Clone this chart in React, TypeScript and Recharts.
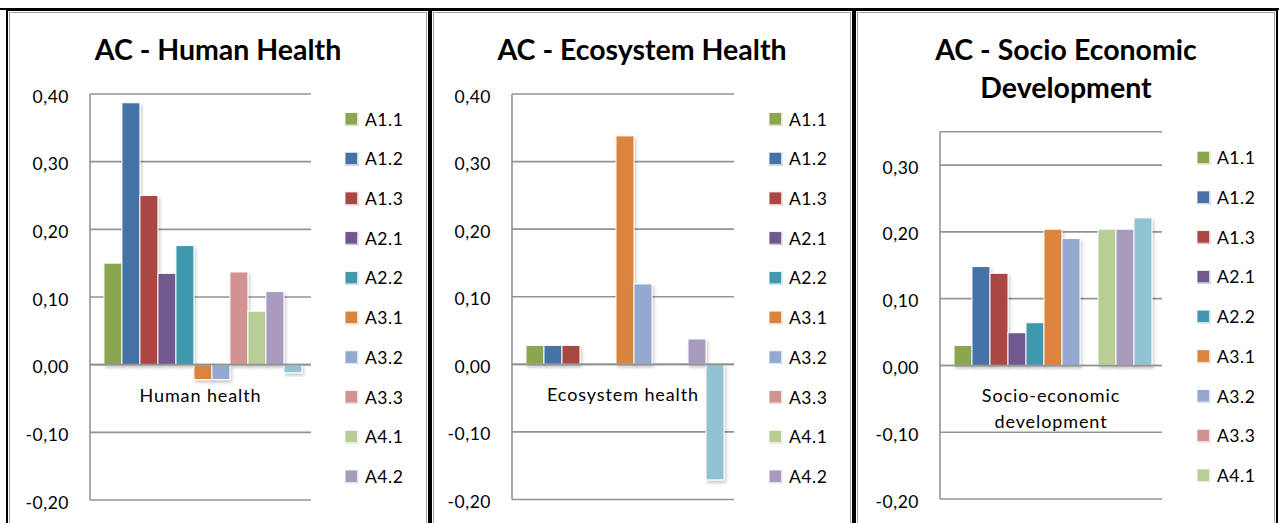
import { Bar, BarChart, CartesianGrid, ReferenceLine, XAxis, YAxis } from 'recharts';

const seriesNames = ['A1.1', 'A1.2', 'A1.3', 'A2.1', 'A2.2', 'A3.1', 'A3.2', 'A3.3', 'A4.1', 'A4.2', 'A4.3'];
const seriesColors = [
  '#8BA64F', '#4572A7', '#AA4643', '#71588F', '#4198AF', '#DB843D',
  '#93A9CF', '#D19392', '#B9CD96', '#A99BBD', '#92C3D4'
];

const categories = ['Human health', 'Ecosystem health', 'Socio-economic development'];
const titles = [['AC - Human Health'], ['AC - Ecosystem Health'], ['AC - Socio Economic', 'Development']];

const humanHealth = [0.15, 0.387, 0.25, 0.135, 0.176, -0.022, -0.022, 0.137, 0.079, 0.108, -0.012];
const ecosystemHealth = [0.028, 0.028, 0.028, 0, 0, 0.338, 0.119, 0, 0, 0.0375, -0.171];
const socioEconomic = [0.03, 0.148, 0.138, 0.049, 0.064, 0.204, 0.19, 0, 0.204, 0.204, 0.221];

const ticksWide = [-0.2, -0.1, 0, 0.1, 0.2, 0.3, 0.4];
const ticksNarrow = [-0.2, -0.1, 0, 0.1, 0.2, 0.3];

const FONT = 'Lato, "Liberation Sans", sans-serif';
const GRID = '#939393';
const CHART_W = 420;
const CHART_H = 540;

const panels = [
  {
    left: 6, values: humanHealth, domain: [-0.2, 0.4], ticks: ticksWide, legendCount: 10,
    plot: { left: 82, right: 303, top: 83, bottom: 489 }, legend: { x: 337, y: 108 }
  },
  {
    left: 430, values: ecosystemHealth, domain: [-0.2, 0.4], ticks: ticksWide, legendCount: 10,
    plot: { left: 80, right: 302, top: 83, bottom: 488.5 }, legend: { x: 337, y: 108 }
  },
  {
    left: 854, values: socioEconomic, domain: [-0.2, 0.35], ticks: ticksNarrow, legendCount: 9,
    plot: { left: 84, right: 306, top: 120.7, bottom: 488 }, legend: { x: 341, y: 146.7 }
  }
];

const fmt = (v: number) => v.toFixed(2).replace('.', ',');

function wrapWords(text: string, max: number) {
  const lines: string[] = [];
  let cur = '';
  text.split(' ').forEach((w) => {
    if (cur && (cur + ' ' + w).length > max) {
      lines.push(cur);
      cur = w;
    } else {
      cur = cur ? cur + ' ' + w : w;
    }
  });
  if (cur) lines.push(cur);
  return lines;
}

const BarShape = (props: any) => {
  const { x, y, width, height, fill } = props;
  if (!height || Math.abs(height) < 0.5) return <g />;
  const top = height < 0 ? y + height : y;
  return (
    <rect x={x} y={top} width={width} height={Math.abs(height)} fill={fill}
      stroke="#ffffff" strokeWidth={1} filter="url(#barShadow)" />
  );
};

function Panel({ index }: { index: number }) {
  const p = panels[index];
  const row: Record<string, any> = { name: categories[index] };
  seriesNames.forEach((s, i) => { row[s] = p.values[i]; });
  const labelLines = wrapWords(categories[index], 16);

  return (
    <div style={{
      position: 'absolute', left: p.left, top: 9, width: 424, height: 560,
      border: '2px solid #000', boxSizing: 'border-box', background: '#fff',
      boxShadow: 'inset 0 0 0 1px #fff, inset 0 0 0 2px #a3a3a3'
    }}>
      <div style={{ position: 'absolute', left: 0, top: 0 }}>
        <BarChart width={CHART_W} height={CHART_H} data={[row]}
          margin={{ top: p.plot.top, right: CHART_W - p.plot.right, bottom: CHART_H - p.plot.bottom, left: 0 }}
          barCategoryGap="6.3%" barGap={0}>
          <defs>
            <filter id="barShadow" x="-20%" y="-20%" width="160%" height="160%">
              <feDropShadow dx="1.5" dy="2.5" stdDeviation="1.5" floodColor="#000" floodOpacity="0.22" />
            </filter>
          </defs>
          <CartesianGrid vertical={false} stroke={GRID} strokeWidth={1.6} />
          <XAxis dataKey="name" hide />
          <YAxis domain={p.domain} ticks={p.ticks} width={p.plot.left} interval={0}
            tickLine={false} tickSize={0} tickMargin={21} allowDataOverflow
            axisLine={{ stroke: GRID, strokeWidth: 1.6 }}
            tick={(t: any) => (
              <text x={t.x} y={t.y + 8.5} textAnchor="end" fontFamily={FONT} fontSize={17.5}
                fill="#000" style={{ letterSpacing: 0.5 }}>
                {fmt(t.payload.value)}
              </text>
            )} />
          {seriesNames.map((s, i) => (
            <Bar key={s} dataKey={s} fill={seriesColors[i]} isAnimationActive={false} shape={BarShape} />
          ))}
          <ReferenceLine y={0} stroke={GRID} strokeWidth={1.6}
            label={(l: any) => {
              const vb = l.viewBox || {};
              const cx = (vb.x || 0) + (vb.width || 0) / 2;
              return (
                <text x={cx} y={(vb.y || 0) + 37} textAnchor="middle" fontFamily={FONT} fontSize={18}
                  fill="#000" style={{ letterSpacing: 0.9 }}>
                  {labelLines.map((line, i) => (
                    <tspan key={line} x={cx} dy={i === 0 ? 0 : 26}>{line}</tspan>
                  ))}
                </text>
              );
            }} />
        </BarChart>
      </div>
      <svg width={CHART_W} height={CHART_H} style={{ position: 'absolute', left: 0, top: 0, pointerEvents: 'none' }}>
        {titles[index].map((line, i) => (
          <text key={line} x={210} y={48.5 + i * 38.3} textAnchor="middle" fontFamily={FONT}
            fontWeight="bold" fontSize={28.5} fill="#000">
            {line}
          </text>
        ))}
        {seriesNames.slice(0, p.legendCount).map((s, i) => {
          const cy = p.legend.y + i * 39.72;
          return (
            <g key={s}>
              <rect x={p.legend.x} y={cy - 6.5} width={12.5} height={12.5} fill={seriesColors[i]}
                stroke="#ffffff" strokeWidth={0.8} />
              <rect x={p.legend.x + 12.5} y={cy - 6.5} width={1} height={13.5} fill={seriesColors[i]} opacity={0.35} />
              <rect x={p.legend.x} y={cy + 6} width={13.5} height={1} fill={seriesColors[i]} opacity={0.35} />
              <text x={p.legend.x + 20} y={cy + 6.5} fontFamily={FONT} fontSize={17.5} fill="#000"
                style={{ letterSpacing: 0.5 }}>
                {s}
              </text>
            </g>
          );
        })}
      </svg>
    </div>
  );
}

export default function App() {
  return (
    <div style={{ position: 'fixed', left: 0, top: 0, width: 1279, height: 523, overflow: 'hidden', background: '#fff' }}>
      <div style={{ position: 'absolute', left: 0, top: 8, width: 1279, height: 2, background: '#000' }} />
      {panels.map((_, i) => <Panel key={i} index={i} />)}
    </div>
  );
}
